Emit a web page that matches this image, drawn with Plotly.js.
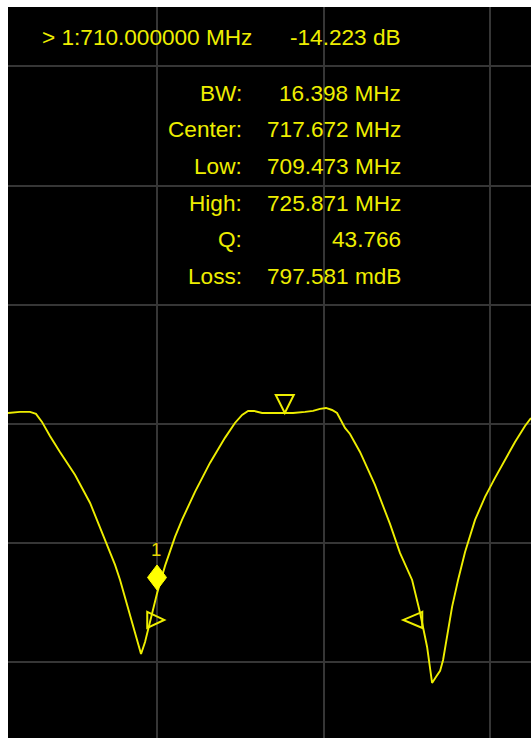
<!DOCTYPE html>
<html>
<head>
<meta charset="utf-8">
<script src="https://cdn.plot.ly/plotly-3.0.1.min.js"></script>
<style>html,body{margin:0;padding:0;background:#fff;}#chart{width:531px;height:738px;}</style>
</head>
<body>
<div id="chart"></div>
<script>
// Trace data (frequency in MHz, magnitude in dB)
const freqMHz = [701.05, 701.77, 702.37, 702.73, 703.09, 703.57, 704.17, 705.08, 705.98, 706.88,
  707.48, 707.78, 708.20, 708.62, 709.04, 709.28, 709.58, 710.00, 710.48, 711.08,
  711.50, 712.28, 713.18, 714.08, 714.68, 715.11, 715.47, 715.83, 716.31, 717.09,
  718.17, 718.89, 719.37, 719.79, 720.15, 720.51, 720.81, 721.29, 721.59, 722.19,
  723.09, 723.99, 724.59, 725.32, 725.80, 726.22, 726.52, 726.76, 727.00, 727.18,
  727.42, 727.72, 728.08, 728.50, 729.10, 729.70, 730.30, 730.90, 731.50, 732.10, 732.46];
const magDB = [0.92, 1.01, 1.01, 0.84, 0.17, -1.01, -2.35, -4.28, -6.63, -9.73,
  -11.83, -13.09, -15.18, -17.28, -19.30, -18.29, -16.69, -14.22, -11.91, -9.48,
  -8.05, -5.70, -3.27, -1.17, 0.08, 0.76, 1.09, 1.09, 0.92, 0.92,
  0.92, 1.01, 1.09, 1.26, 1.34, 1.17, 0.92, -0.34, -0.84, -2.35,
  -5.12, -8.39, -10.82, -13.09, -15.86, -18.71, -21.73, -21.22, -20.72, -19.80,
  -17.95, -15.35, -13.09, -10.74, -8.05, -6.12, -4.53, -3.02, -1.51, -0.17, 0.50];

// Marker 1
const markerFreq = [710.0];
const markerDB = [-14.223];
const markerLabel = ['1'];

// Bandwidth analysis markers: low, center, high
const bwFreq = [709.473, 717.672, 725.871];
const bwLevelDB = [-16.44, 0.92, -16.44];

// Readout texts
const readout = ['> 1:710.000000 MHz', '-14.223 dB'];
const statLabels = ['BW:', 'Center:', 'Low:', 'High:', 'Q:', 'Loss:'];
const statValues = ['16.398 MHz', '717.672 MHz', '709.473 MHz', '725.871 MHz', '43.766', '797.581 mdB'];

const YEL = '#eeee00';
const FONT = 'Liberation Sans, Arial, sans-serif';
const W = 531, H = 738, ML = 8, MT = 7;
const PW = W - ML, PH = H - MT;
const px2x = px => (px - ML) / PW;
const py2y = py => (H - py) / PH;

const trace = {
  x: freqMHz, y: magDB, type: 'scatter', mode: 'lines',
  line: {color: YEL, width: 1.9}, hoverinfo: 'skip'
};

const shapes = [];
// marker 1 diamond, drawn just above the point
shapes.push({type: 'path', xref: 'x', yref: 'y', xsizemode: 'pixel', ysizemode: 'pixel',
  xanchor: markerFreq[0], yanchor: markerDB[0],
  path: 'M 0 3.5 L 9.5 16 L 0 28.5 L -9.5 16 Z',
  fillcolor: '#ffff00', line: {color: '#ffff00', width: 1}});
// low marker (pointing right)
shapes.push({type: 'path', xref: 'x', yref: 'y', xsizemode: 'pixel', ysizemode: 'pixel',
  xanchor: bwFreq[0], yanchor: bwLevelDB[0],
  path: 'M -1 8 L 16 0 L -1 -8 Z', line: {color: YEL, width: 2}});
// center marker (pointing down)
shapes.push({type: 'path', xref: 'x', yref: 'y', xsizemode: 'pixel', ysizemode: 'pixel',
  xanchor: bwFreq[1], yanchor: bwLevelDB[1],
  path: 'M 0 0 L 9 18 L -9 18 Z', line: {color: YEL, width: 2}});
// high marker (pointing left)
shapes.push({type: 'path', xref: 'x', yref: 'y', xsizemode: 'pixel', ysizemode: 'pixel',
  xanchor: bwFreq[2], yanchor: bwLevelDB[2],
  path: 'M 1 8 L -18 0 L 1 -8 Z', line: {color: YEL, width: 2}});

const annotations = [];
const tf = {family: FONT, size: 22.6, color: YEL};
annotations.push({xref: 'paper', yref: 'paper', x: px2x(40), y: py2y(38), xanchor: 'left', yanchor: 'middle',
  text: readout[0], showarrow: false, font: tf});
annotations.push({xref: 'paper', yref: 'paper', x: px2x(403), y: py2y(38), xanchor: 'right', yanchor: 'middle',
  text: readout[1], showarrow: false, font: tf});
statLabels.forEach((lab, i) => {
  const yy = py2y(93 + 36.7 * i);
  annotations.push({xref: 'paper', yref: 'paper', x: px2x(244), y: yy, xanchor: 'right', yanchor: 'middle',
    text: lab, showarrow: false, font: tf});
  annotations.push({xref: 'paper', yref: 'paper', x: px2x(403), y: yy, xanchor: 'right', yanchor: 'middle',
    text: statValues[i], showarrow: false, font: tf});
});
annotations.push({xref: 'x', yref: 'y', x: markerFreq[0], y: markerDB[0], yshift: 44, xshift: -1,
  text: markerLabel[0], showarrow: false, font: {family: FONT, size: 18.5, color: '#e8d800'}});

const axisCommon = {showticklabels: false, ticks: '', zeroline: false, showline: false,
  showgrid: true, gridcolor: '#363636', gridwidth: 2, fixedrange: true};

const layout = {
  width: W, height: H,
  margin: {l: ML, r: 0, t: MT, b: 0, pad: 0},
  paper_bgcolor: '#ffffff', plot_bgcolor: '#000000',
  showlegend: false,
  xaxis: Object.assign({}, axisCommon, {range: [701.05, 732.46], tick0: 700, dtick: 10}),
  yaxis: Object.assign({}, axisCommon, {range: [-26.35, 34.98], tick0: 0, dtick: 10}),
  shapes: shapes, annotations: annotations
};

Plotly.newPlot('chart', [trace], layout, {displayModeBar: false, staticPlot: true});
</script>
</body>
</html>
